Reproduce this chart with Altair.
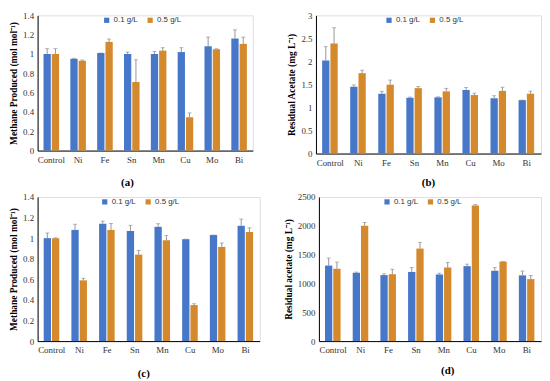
import altair as alt
import pandas as pd

metals = ["Control", "Ni", "Fe", "Sn", "Mn", "Cu", "Mo", "Bi"]
doses = ["0.1 g/L", "0.5 g/L"]

# (a) Methane produced
a_low = [1.00, 0.95, 1.01, 1.00, 1.00, 1.02, 1.08, 1.16]
a_low_err = [0.055, 0.005, 0.0, 0.02, 0.025, 0.045, 0.095, 0.09]
a_high = [1.00, 0.93, 1.125, 0.71, 1.035, 0.345, 1.05, 1.105]
a_high_err = [0.055, 0.008, 0.03, 0.23, 0.03, 0.045, 0.004, 0.07]

# (b) Residual acetate
b_low = [2.02, 1.45, 1.30, 1.21, 1.22, 1.38, 1.20, 1.16]
b_low_err = [0.30, 0.04, 0.05, 0.015, 0.01, 0.055, 0.055, 0.0]
b_high = [2.39, 1.745, 1.495, 1.42, 1.35, 1.27, 1.36, 1.30]
b_high_err = [0.34, 0.065, 0.10, 0.035, 0.065, 0.04, 0.08, 0.055]

# (c) Methane produced
c_low = [1.00, 1.08, 1.14, 1.07, 1.11, 0.99, 1.03, 1.12]
c_low_err = [0.05, 0.055, 0.025, 0.055, 0.03, 0.0, 0.0, 0.065]
c_high = [1.00, 0.59, 1.08, 0.84, 0.98, 0.35, 0.915, 1.06]
c_high_err = [0.003, 0.02, 0.063, 0.04, 0.045, 0.013, 0.038, 0.04]

# (d) Residual acetate
d_low = [1310, 1185, 1145, 1200, 1155, 1300, 1220, 1140]
d_low_err = [130, 12, 22, 75, 22, 35, 55, 75]
d_high = [1255, 2000, 1160, 1605, 1275, 2350, 1378, 1075]
d_high_err = [115, 57, 87, 108, 90, 17, 3, 62]

BLUE = "#4677c9"
ORANGE = "#d48a2c"
ERR = "#8a8a8a"
SERIF = "Liberation Serif"
SANS = "Liberation Sans"


def make_df(low, low_err, high, high_err):
    rows = []
    for i, m in enumerate(metals):
        rows.append({"metal": m, "dose": doses[0], "value": low[i], "top": low[i] + low_err[i]})
        rows.append({"metal": m, "dose": doses[1], "value": high[i], "top": high[i] + high_err[i]})
    return pd.DataFrame(rows)


def panel(low, low_err, high, high_err, ymax, ystep, ytitle, label, w, h, lx, title_dx, title_off):
    df = make_df(low, low_err, high, high_err)
    n = int(round(ymax / ystep))
    ticks = [round(i * ystep, 4) for i in range(n + 1)]
    x = alt.X(
        "metal:N", sort=metals,
        scale=alt.Scale(paddingInner=0.42, paddingOuter=0.22),
        axis=alt.Axis(title=None, labelAngle=0, ticks=False, domainColor="black",
                      labelFont=SERIF, labelFontSize=9, labelColor="#333",
                      labelPadding=5, labelOverlap=False),
    )
    xo = alt.XOffset("dose:N", sort=doses, scale=alt.Scale(paddingInner=0.12))
    yscale = alt.Scale(domain=[0, ymax], nice=False)
    yaxis = alt.Axis(values=ticks, format="~f", grid=False, ticks=False,
                     domainColor="black", labelFont=SERIF, labelFontSize=9,
                     labelColor="#333", labelPadding=4, labelOverlap=False,
                     title=ytitle, titleFont=SERIF, titleFontSize=9.5,
                     titleFontWeight="bold", titleColor="black", titlePadding=4)
    bars = alt.Chart(df).mark_bar().encode(
        x=x, xOffset=xo,
        y=alt.Y("value:Q", scale=yscale, axis=yaxis),
        color=alt.Color(
            "dose:N", sort=doses,
            scale=alt.Scale(domain=doses, range=[BLUE, ORANGE]),
            legend=alt.Legend(orient="none", legendX=lx, legendY=1,
                              direction="horizontal", title=None,
                              symbolType="square", symbolSize=28,
                              symbolStrokeWidth=0, labelFont=SANS,
                              labelFontSize=8, labelColor="#333",
                              columnPadding=8, labelOffset=3),
        ),
    )
    rules = alt.Chart(df).mark_rule(color=ERR, strokeWidth=0.9).encode(
        x=x, xOffset=xo,
        y=alt.Y("value:Q", scale=yscale, axis=yaxis), y2="top:Q")
    caps = alt.Chart(df).mark_tick(color=ERR, thickness=0.9, size=4).encode(
        x=x, xOffset=xo, y=alt.Y("top:Q", scale=yscale, axis=yaxis))
    return alt.layer(bars, rules, caps).properties(
        width=w, height=h,
        title=alt.TitleParams(label, orient="bottom", font=SERIF, fontSize=11,
                              fontWeight="bold", color="black", offset=title_off,
                              dx=title_dx),
    )


pa = panel(a_low, a_low_err, a_high, a_high_err, 1.4, 0.2,
           "Methane Produced (mol mol\u207b\u00b9)", "(a)", 218, 137, 66, -18, 13)
pb = panel(b_low, b_low_err, b_high, b_high_err, 3.0, 0.5,
           "Residual Acetate (mg L\u207b\u00b9)", "(b)", 228, 140, 70, 0, 10)
pc = panel(c_low, c_low_err, c_high, c_high_err, 1.4, 0.2,
           "Methane Produced (mol mol\u207b\u00b9)", "(c)", 225, 146, 64, -5, 13)
pd_ = panel(d_low, d_low_err, d_high, d_high_err, 2500, 500,
            "Residual acetate (mg L\u207b\u00b9)", "(d)", 225, 146, 65, 18, 10)

top = alt.hconcat(pa, pb, spacing=33).resolve_scale(color="independent")
bottom = alt.hconcat(pc, pd_, spacing=22).resolve_scale(color="independent")
chart = alt.vconcat(top, bottom, spacing=3).properties(padding=0).configure_view(
    stroke="black", strokeWidth=0.9
).configure_axis(labelOverlap=False).configure(background="white")

chart.save("out.html", embed_options={"renderer": "svg", "actions": False})
